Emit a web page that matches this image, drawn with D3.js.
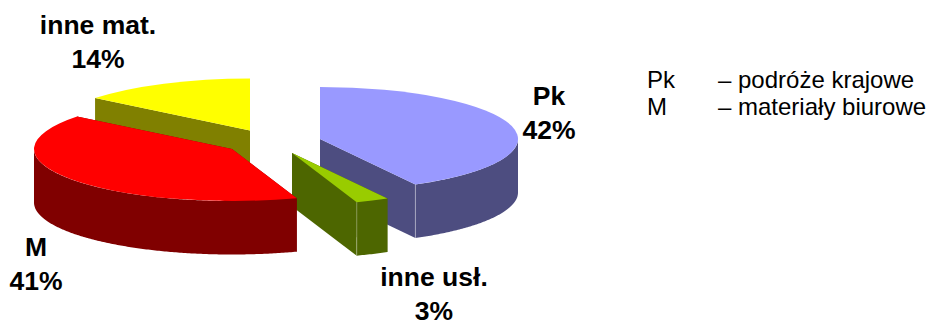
<!DOCTYPE html>
<html>
<head>
<meta charset="utf-8">
<script src="https://cdn.jsdelivr.net/npm/d3@7"></script>
<style>
  body { margin: 0; background: #fff; }
  svg { display: block; }
  text { font-family: "Liberation Sans", Arial, sans-serif; fill: #000; }
</style>
</head>
<body>
<script>
//Chart values
const categories = ["Pk", "inne usł.", "M", "inne mat."];
const shares = [42, 2.7, 41, 14.3];
const topColors = ["#9999ff", "#99cc00", "#ff0000", "#ffff00"];
const sideColors = ["#4d4d80", "#4d6600", "#800000", "#808000"];
const legendKeys = ["Pk", "M"];
const legendNames = ["– podróże krajowe", "– materiały biurowe"];

//Layout of the exploded pie, in the order of categories
const rx = 198, ry = 52, depth = 53.5;
const centers = [[320, 139], [292, 153], [232, 149], [250, 130.5]];
const labelPos = [[549, 105], [434, 286], [36, 256], [98, 34]];
const drawOrder = [3, 0, 1, 2]; //back to front

const svg = d3.select("body").append("svg")
    .attr("width", 928)
    .attr("height", 323);

const slices = d3.pie().sort(null)(shares);
const arc = d3.arc().innerRadius(0).outerRadius(rx);
const line = d3.line();

//angle 0 is 12 o'clock, going clockwise, same as d3.pie
const project = (a, c, drop = 0) => [
    c[0] + rx * Math.sin(a),
    c[1] - ry * Math.cos(a) + drop
];

function cutFace(a, c) {
    return line([c, project(a, c), project(a, c, depth), [c[0], c[1] + depth]]) + "Z";
}

function wall(a0, a1, c) {
    const from = Math.max(a0, Math.PI / 2);
    const to = Math.min(a1, Math.PI * 1.5);
    if (from >= to) return null;
    const angles = d3.range(from, to, 0.01).concat(to);
    const upper = angles.map(a => project(a, c));
    const lower = angles.map(a => project(a, c, depth)).reverse();
    return line(upper.concat(lower)) + "Z";
}

drawOrder.forEach(i => {
    const s = slices[i];
    const c = centers[i];
    const g = svg.append("g");

    //the two cut faces, whichever faces away gets painted over
    [s.startAngle, s.endAngle].forEach(a => {
        g.append("path").attr("d", cutFace(a, c)).attr("fill", sideColors[i]);
    });

    const w = wall(s.startAngle, s.endAngle, c);
    if (w) g.append("path").attr("d", w).attr("fill", sideColors[i]);

    //pale seam where the cut face meets the outer wall
    if (s.endAngle < Math.PI && w) {
        const p = project(s.endAngle, c);
        g.append("line")
            .attr("x1", p[0]).attr("x2", p[0])
            .attr("y1", p[1]).attr("y2", p[1] + depth)
            .attr("stroke", "#fff")
            .attr("stroke-opacity", 0.35);
    }

    g.append("path")
        .attr("d", arc(s))
        .attr("transform", `translate(${c[0]},${c[1]}) scale(1,${ry / rx})`)
        .attr("fill", topColors[i]);
});

//Slice labels
categories.forEach((name, i) => {
    const t = svg.append("text")
        .attr("text-anchor", "middle")
        .attr("font-size", 26.5)
        .attr("font-weight", "bold");
    t.append("tspan").attr("x", labelPos[i][0]).attr("y", labelPos[i][1]).text(name);
    t.append("tspan").attr("x", labelPos[i][0]).attr("dy", 33.5).text(Math.round(shares[i]) + "%");
});

//Legend
legendKeys.forEach((key, i) => {
    const y = 88 + i * 27;
    svg.append("text").attr("x", 647).attr("y", y).attr("font-size", 24).text(key);
    svg.append("text").attr("x", 718).attr("y", y).attr("font-size", 24).text(legendNames[i]);
});
</script>
</body>
</html>
